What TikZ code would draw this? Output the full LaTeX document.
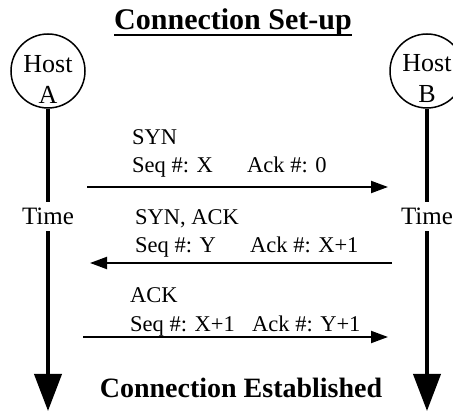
\documentclass[tikz,border=0pt]{standalone}
\usepackage{fontspec}
\setmainfont{Liberation Serif}
\usetikzlibrary{arrows.meta}

\begin{document}
\begin{tikzpicture}[x=1pt, y=-1pt,
    host/.style={draw, circle, line width=1.5pt, minimum size=74pt, inner sep=0pt},
    hostname/.style={align=center, inner sep=0pt, font=\fontsize{26}{31}\selectfont},
    timeline/.style={line width=4pt, -{Triangle[width=27pt,length=37pt]}},
    timelabel/.style={anchor=base, fill=white, inner xsep=3pt, inner ysep=6pt, font=\fontsize{25}{30}\selectfont},
    msg/.style={line width=2pt, -{Triangle[width=12pt,length=17pt]}},
    msglabel/.style={anchor=base west, inner sep=0pt, font=\fontsize{22.5}{27}\selectfont},
    heading/.style={anchor=base, inner sep=0pt, font=\fontsize{30}{36}\selectfont\bfseries}]
    \useasboundingbox (0,0) rectangle (453,411);

    % Draw the heading, underlined
    \node[heading] (title) at (233,30) {Connection Set-up};
    \draw[line width=1.5pt] ([yshift=-5pt]title.base west) -- ([yshift=-5pt]title.base east);

    % Draw the two hosts with their time lines
    \node[host] (hostA) at (48,71) {};
    \node[host] (hostB) at (427,71) {};
    \node[hostname] (nameA) at (48,79) {Host\\A};
    \node[hostname] (nameB) at (427,79) {Host\\B};
    \coordinate (endA) at (48,411);
    \coordinate (endB) at (427,411);
    \draw[timeline] (hostA) -- (endA);
    \draw[timeline] (hostB) -- (endB);
    \node[timelabel] (timeA) at (48,225) {Time};
    \node[timelabel] (timeB) at (427,225) {Time};

    % SYN from A to B
    \coordinate (synA) at (87,187);
    \coordinate (synB) at (388,187);
    \draw[msg] (synA) -- (synB);
    \node[msglabel] (synname) at (132,145) {SYN};
    \node[msglabel] (synseq) at (132,173) {Seq \#: X};
    \node[msglabel] (synack) at (247,173) {Ack \#: 0};

    % SYN, ACK from B back to A
    \coordinate (synackB) at (392,263);
    \coordinate (synackA) at (90,263);
    \draw[msg] (synackB) -- (synackA);
    \node[msglabel] (synackname) at (135,225) {SYN, ACK};
    \node[msglabel] (synackseq) at (135,253) {Seq \#: Y};
    \node[msglabel] (synackack) at (250,253) {Ack \#: X+1};

    % ACK from A to B
    \coordinate (ackA) at (83,337);
    \coordinate (ackB) at (388,337);
    \draw[msg] (ackA) -- (ackB);
    \node[msglabel] (ackname) at (130,303) {ACK};
    \node[msglabel] (ackseq) at (130,332) {Seq \#: X+1};
    \node[msglabel] (ackack) at (252,332) {Ack \#: Y+1};

    % Final state
    \node[heading, font=\fontsize{28}{34}\selectfont\bfseries] (done) at (241,398) {Connection Established};
\end{tikzpicture}
\end{document}
